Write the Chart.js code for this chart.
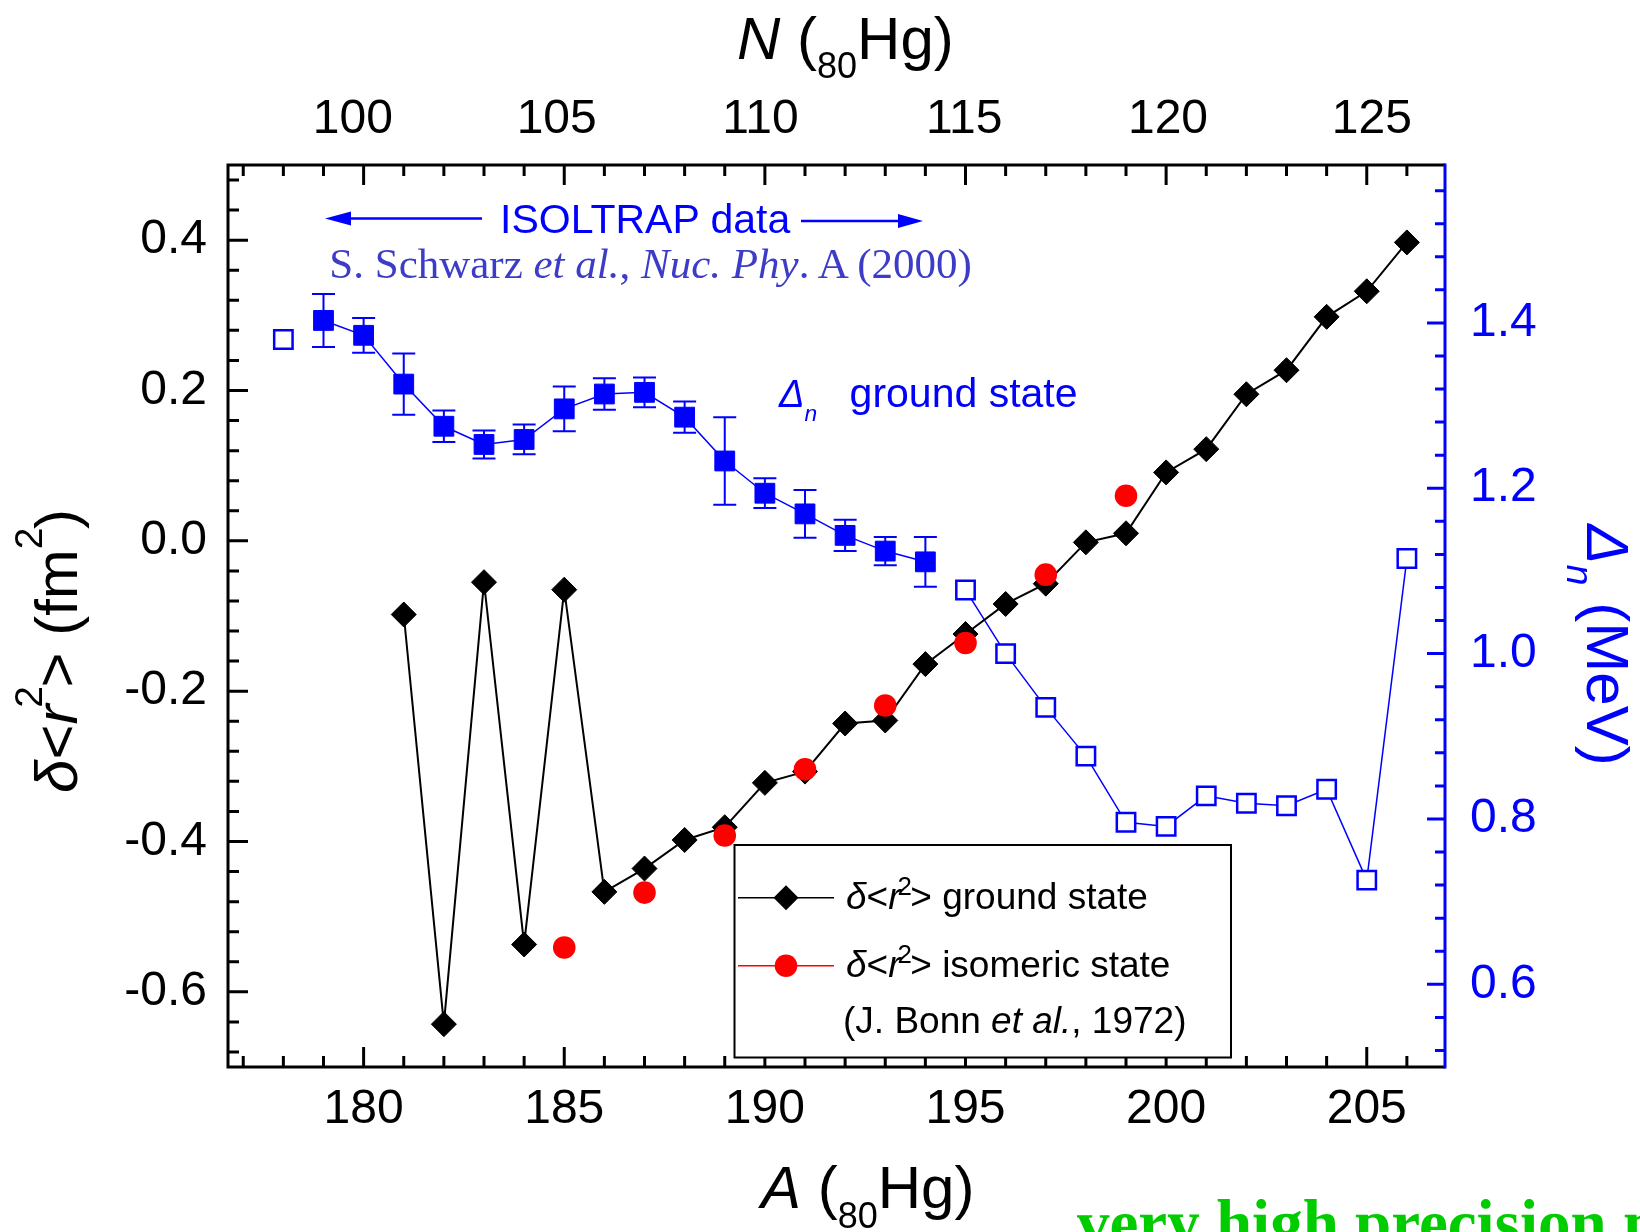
<!DOCTYPE html>
<html>
<head>
<meta charset="utf-8">
<script src="https://cdn.jsdelivr.net/npm/chart.js@4.4.1/dist/chart.umd.min.js"></script>
<style>
  html, body { margin:0; padding:0; background:#ffffff; overflow:hidden; }
  #wrap { position:relative; width:1640px; height:1232px; overflow:hidden; background:#ffffff; }
  #c { position:absolute; left:0; top:0; }
  #ov { position:absolute; left:0; top:0; }
  .t, .rot { position:absolute; white-space:nowrap; line-height:1; font-family:"Liberation Sans", Arial, sans-serif; color:#000; }
  .serif { font-family:"Liberation Serif", "Times New Roman", serif; }
  .sub { position:relative; font-size:0.6em; top:0.55em; }
  .sup { position:relative; font-size:0.65em; top:-0.9em; margin-left:-0.08em; margin-right:-0.04em; }
  .lsup { position:relative; font-size:0.7em; top:-0.55em; margin-left:-0.12em; margin-right:-0.06em; }
</style>
</head>
<body>
<div id="wrap">
  <canvas id="c" width="1640" height="1232"></canvas>
  <svg id="ov" width="1640" height="1232" xmlns="http://www.w3.org/2000/svg">
    <line x1="482" y1="218.5" x2="345" y2="218.5" stroke="#0000ff" stroke-width="2.5"/>
    <polygon points="325,218.5 351,211.5 351,225.5" fill="#0000ff"/>
    <line x1="801" y1="221" x2="903" y2="221" stroke="#0000ff" stroke-width="2.5"/>
    <polygon points="923,221 898,214 898,228" fill="#0000ff"/>
    <rect x="734.5" y="845" width="496.5" height="212.5" fill="#ffffff" stroke="#000000" stroke-width="2"/>
    <line x1="738" y1="897.8" x2="834" y2="897.8" stroke="#000000" stroke-width="1.5"/>
    <polygon points="773.5,897.8 786,885.3 798.5,897.8 786,910.3" fill="#000000"/>
    <line x1="738" y1="965.8" x2="834" y2="965.8" stroke="#ff0000" stroke-width="1.5"/>
    <circle cx="786" cy="965.8" r="11.3" fill="#ff0000"/>
  </svg>

  <div class="t" data-x="737" data-b="58.6" style="font-size:60px"><i>N</i> (<span class="sub">80</span>Hg)</div>
  <div class="t" data-x="761" data-b="1208" style="font-size:60px"><i>A</i> (<span class="sub">80</span>Hg)</div>

  <div class="rot" data-cx="57.2" data-cy="651" data-rot="-90" style="font-size:60px"><i>δ</i>&lt;<i>r</i><span class="sup">2</span>&gt; (fm<span class="sup" style="margin-left:0">2</span>)</div>
  <div class="rot" data-cx="1606.8" data-cy="645" data-rot="90" style="font-size:60px;color:#0000ff"><i>Δ</i><span class="sub" style="font-size:0.63em;top:0.53em"><i>n</i></span> (MeV)</div>

  <div class="t" data-x="500" data-b="232.7" style="font-size:41px;color:#0000ff">ISOLTRAP data</div>
  <div class="t serif" data-x="329.3" data-b="278.3" style="font-size:43px;color:#3c3cc8">S. Schwarz <i>et al.</i>, <i>Nuc. Phy</i>. A (2000)</div>
  <div class="t" data-x="779" data-b="407" style="font-size:38px;color:#0000ff"><i>Δ</i><span class="sub" style="font-size:0.6em;top:0.6em"><i>n</i></span></div>
  <div class="t" data-x="849.6" data-b="407" style="font-size:41px;color:#0000ff">ground state</div>

  <div class="t" data-x="846" data-b="909" style="font-size:37px"><i>δ</i>&lt;<i>r</i><span class="lsup">2</span>&gt; ground state</div>
  <div class="t" data-x="846" data-b="977" style="font-size:37px"><i>δ</i>&lt;<i>r</i><span class="lsup">2</span>&gt; isomeric state</div>
  <div class="t" data-x="843" data-b="1033" style="font-size:37px">(J. Bonn <i>et al.</i>, 1972)</div>

  <div class="t serif" data-x="1077" data-b="1245" style="font-size:65px;font-weight:bold;color:#00cc00">very high precision m</div>
</div>

<script>
// ---------------- data ----------------
const groundA   = [181, 182, 183, 184, 185, 186, 187, 188, 189, 190, 191, 192, 193,
                   194, 195, 196, 197, 198, 199, 200, 201, 202, 203, 204, 205, 206];
const groundR2  = [-0.098, -0.643, -0.055, -0.537, -0.065, -0.467, -0.436, -0.398, -0.381,
                   -0.322, -0.307, -0.243, -0.239, -0.164, -0.124, -0.084, -0.057, -0.002,
                    0.010,  0.091,  0.122,  0.195,  0.227,  0.298,  0.332,  0.397];

const isomerA   = [185, 187, 189, 191, 193, 195, 197, 199];
const isomerR2  = [-0.541, -0.468, -0.392, -0.304, -0.219, -0.136, -0.045, 0.060];

const isoltrapA     = [179, 180, 181, 182, 183, 184, 185, 186, 187, 188, 189, 190, 191, 192, 193, 194];
const isoltrapDelta = [1.403, 1.385, 1.326, 1.275, 1.253, 1.259, 1.296, 1.314,
                       1.316, 1.286, 1.233, 1.194, 1.169, 1.143, 1.124, 1.111];
const isoltrapErr   = [0.032, 0.021, 0.037, 0.019, 0.017, 0.018, 0.027, 0.019,
                       0.018, 0.019, 0.053, 0.018, 0.029, 0.019, 0.017, 0.030];

const otherA1     = [178];
const otherDelta1 = [1.380];
const otherA2     = [195, 196, 197, 198, 199, 200, 201, 202, 203, 204, 205, 206];
const otherDelta2 = [1.077, 1.000, 0.935, 0.876, 0.796, 0.791, 0.828, 0.819, 0.816, 0.836, 0.726, 1.115];

const leftTicks   = [-0.6, -0.4, -0.2, 0.0, 0.2, 0.4];
const rightTicks  = [0.6, 0.8, 1.0, 1.2, 1.4];
const bottomTicks = [180, 185, 190, 195, 200, 205];
const topTicks    = [100, 105, 110, 115, 120, 125];

// ---------------- chart ----------------
const BLUE = '#0000ff';
const pts = (xs, ys) => xs.map((x, i) => ({ x: x, y: ys[i] }));
const tickFont = { family: "'Liberation Sans', Arial, sans-serif", size: 48 };
const fixedTicks = arr => scale => { scale.ticks = arr.map(v => ({ value: v })); };
const noGrid = { display: false, drawTicks: false };
const noBorder = { display: false };

const errorBars = {
  id: 'errorBars',
  beforeDatasetsDraw(chart) {
    const ctx = chart.ctx, xs = chart.scales.x, ys = chart.scales.y2;
    ctx.save();
    ctx.strokeStyle = BLUE;
    ctx.lineWidth = 2;
    ctx.beginPath();
    isoltrapA.forEach((a, i) => {
      const px = xs.getPixelForValue(a);
      const p1 = ys.getPixelForValue(isoltrapDelta[i] + isoltrapErr[i]);
      const p2 = ys.getPixelForValue(isoltrapDelta[i] - isoltrapErr[i]);
      ctx.moveTo(px, p1); ctx.lineTo(px, p2);
      ctx.moveTo(px - 11.5, p1); ctx.lineTo(px + 11.5, p1);
      ctx.moveTo(px - 11.5, p2); ctx.lineTo(px + 11.5, p2);
    });
    ctx.stroke();
    ctx.restore();
  }
};

const frame = {
  id: 'frame',
  afterDatasetsDraw(chart) {
    const ctx = chart.ctx, a = chart.chartArea;
    const x = chart.scales.x, y = chart.scales.y, y2 = chart.scales.y2;
    ctx.save();
    ctx.lineCap = 'butt';
    ctx.strokeStyle = '#000';
    ctx.lineWidth = 3;
    ctx.beginPath();
    for (let k = -17; k <= 12; k++) {
      const py = y.getPixelForValue(k * 0.04);
      const L = (k % 5 === 0) ? 20 : 11;
      ctx.moveTo(a.left, py); ctx.lineTo(a.left + L, py);
    }
    for (let A = 177; A <= 206; A++) {
      const px = x.getPixelForValue(A);
      const L = (A % 5 === 0) ? 20 : 11;
      ctx.moveTo(px, a.bottom); ctx.lineTo(px, a.bottom - L);
      ctx.moveTo(px, a.top); ctx.lineTo(px, a.top + L);
    }
    ctx.stroke();
    ctx.beginPath();
    ctx.moveTo(a.right, a.top); ctx.lineTo(a.left, a.top);
    ctx.lineTo(a.left, a.bottom); ctx.lineTo(a.right, a.bottom);
    ctx.stroke();
    ctx.strokeStyle = BLUE;
    ctx.beginPath();
    for (let k = 13; k <= 39; k++) {
      const py = y2.getPixelForValue(k * 0.04);
      const L = (k % 5 === 0) ? 18 : 10;
      ctx.moveTo(a.right, py); ctx.lineTo(a.right - L, py);
    }
    ctx.stroke();
    ctx.beginPath();
    ctx.moveTo(a.right, a.top - 1.5); ctx.lineTo(a.right, a.bottom + 1.5);
    ctx.stroke();
    ctx.restore();
  }
};

new Chart(document.getElementById('c'), {
  type: 'scatter',
  data: {
    datasets: [
      { label: 'isomeric', data: pts(isomerA, isomerR2), xAxisID: 'x', yAxisID: 'y',
        showLine: false, pointStyle: 'circle', pointRadius: 11.3,
        pointBackgroundColor: '#ff0000', pointBorderColor: '#ff0000', pointBorderWidth: 0 },
      { label: 'ground', data: pts(groundA, groundR2), xAxisID: 'x', yAxisID: 'y',
        showLine: true, borderColor: '#000', borderWidth: 2, pointStyle: 'rectRot', pointRadius: 12.5,
        pointBackgroundColor: '#000', pointBorderColor: '#000', pointBorderWidth: 1 },
      { label: 'isoltrap', data: pts(isoltrapA, isoltrapDelta), xAxisID: 'x', yAxisID: 'y2',
        showLine: true, borderColor: BLUE, borderWidth: 1.5, pointStyle: 'rect', pointRadius: 14,
        pointBackgroundColor: BLUE, pointBorderColor: BLUE, pointBorderWidth: 1 },
      { label: 'other2', data: pts(otherA2, otherDelta2), xAxisID: 'x', yAxisID: 'y2',
        showLine: true, borderColor: BLUE, borderWidth: 1.5, pointStyle: 'rect', pointRadius: 13,
        pointBackgroundColor: '#ffffff', pointBorderColor: BLUE, pointBorderWidth: 2.5 },
      { label: 'other1', data: pts(otherA1, otherDelta1), xAxisID: 'x', yAxisID: 'y2',
        showLine: false, pointStyle: 'rect', pointRadius: 13,
        pointBackgroundColor: '#ffffff', pointBorderColor: BLUE, pointBorderWidth: 2.5 }
    ]
  },
  options: {
    responsive: false,
    animation: false,
    events: [],
    layout: { padding: 0 },
    plugins: { legend: { display: false }, tooltip: { enabled: false } },
    scales: {
      x: {
        type: 'linear', position: 'bottom', min: 176.62, max: 206.95,
        grid: noGrid, border: noBorder,
        afterBuildTicks: fixedTicks(bottomTicks),
        afterFit: s => { s.height = 165; },
        ticks: { font: tickFont, color: '#000', padding: 13.5, autoSkip: false,
                 maxRotation: 0, minRotation: 0, callback: v => String(v) }
      },
      xTop: {
        type: 'linear', position: 'top', min: 96.935, max: 126.796,
        grid: noGrid, border: noBorder,
        afterBuildTicks: fixedTicks(topTicks),
        afterFit: s => { s.height = 165; },
        ticks: { font: tickFont, color: '#000', padding: 16.4, autoSkip: false,
                 maxRotation: 0, minRotation: 0, callback: v => String(v) }
      },
      y: {
        type: 'linear', position: 'left', min: -0.7, max: 0.5,
        grid: noGrid, border: noBorder,
        afterBuildTicks: fixedTicks(leftTicks),
        afterFit: s => { s.width = 228; },
        ticks: { font: tickFont, color: '#000', padding: 21, autoSkip: false,
                 callback: v => Number(v).toFixed(1) }
      },
      y2: {
        type: 'linear', position: 'right', min: 0.5, max: 1.591,
        grid: noGrid, border: noBorder,
        afterBuildTicks: fixedTicks(rightTicks),
        afterFit: s => { s.width = 195; },
        ticks: { font: tickFont, color: BLUE, padding: 25, autoSkip: false,
                 callback: v => Number(v).toFixed(1) }
      }
    }
  },
  plugins: [errorBars, frame]
});

// ---------------- text placement ----------------
function placeTexts() {
  document.querySelectorAll('.t').forEach(el => {
    const m = document.createElement('span');
    m.style.cssText = 'display:inline-block;width:0;height:0;vertical-align:baseline;';
    el.insertBefore(m, el.firstChild);
    const off = m.offsetTop;
    el.removeChild(m);
    el.style.left = el.dataset.x + 'px';
    el.style.top = (parseFloat(el.dataset.b) - off) + 'px';
  });
  document.querySelectorAll('.rot').forEach(el => {
    const w = el.offsetWidth, h = el.offsetHeight;
    el.style.left = (parseFloat(el.dataset.cx) - w / 2) + 'px';
    el.style.top = (parseFloat(el.dataset.cy) - h / 2) + 'px';
    el.style.transform = 'rotate(' + el.dataset.rot + 'deg)';
  });
}
placeTexts();
</script>
</body>
</html>
